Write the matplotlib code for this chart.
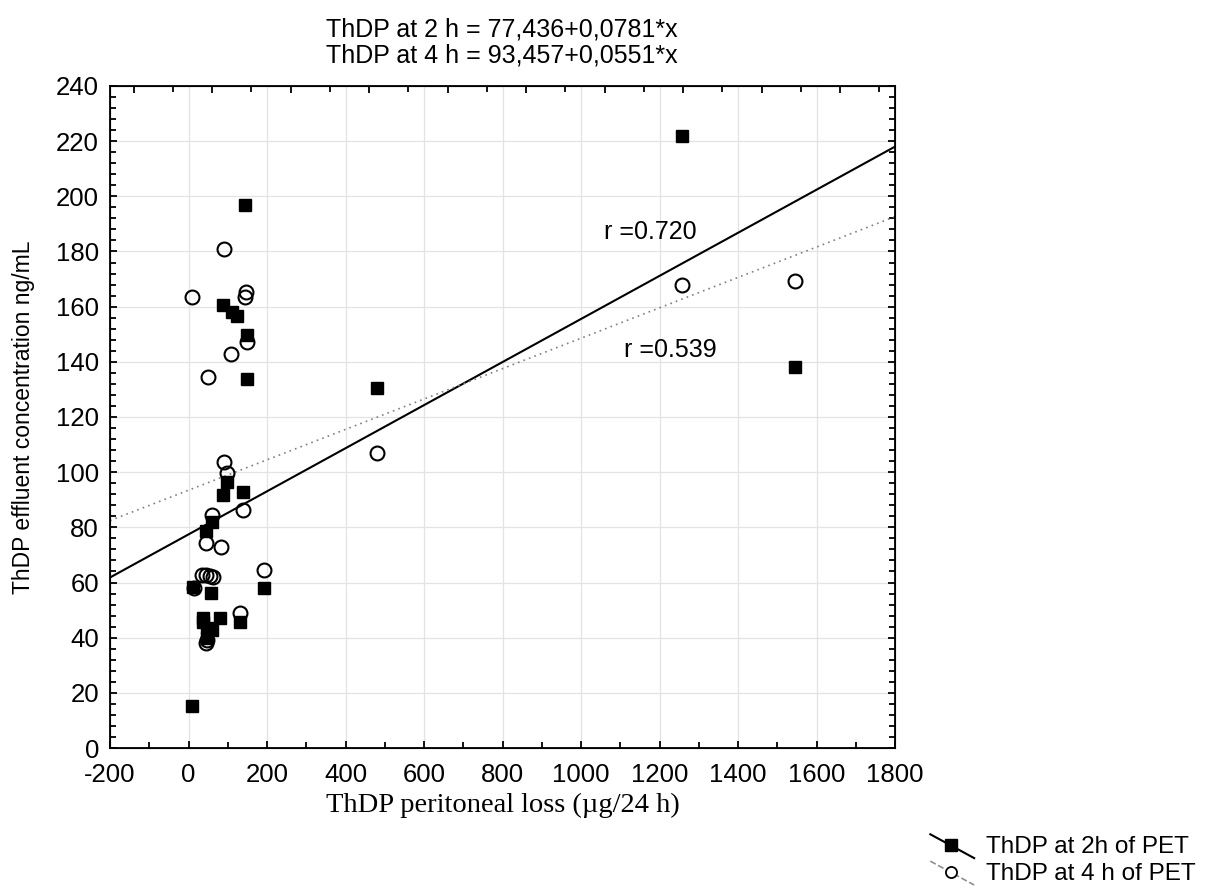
import numpy as np
import matplotlib
matplotlib.use("Agg")
import matplotlib.pyplot as plt
from matplotlib.legend_handler import HandlerBase
from matplotlib.lines import Line2D
from matplotlib.ticker import MultipleLocator

plt.rcParams['font.family'] = ['Liberation Sans', 'DejaVu Sans']
plt.rcParams['axes.unicode_minus'] = False

# ThDP at 2 h of PET (filled squares)
x_2h = [1257, 1545, 480, 144, 89, 110, 124, 148, 148, 97, 89, 138, 59, 45,
        193, 12, 57, 131, 80, 38, 36, 46, 59, 46, 10]
y_2h = [222, 138, 130.5, 197, 160.6, 158.2, 156.7, 149.7, 133.8, 96.6, 91.7, 92.9, 82, 78.7,
        57.9, 58.5, 56.3, 45.8, 47, 47, 45.5, 43.4, 42.8, 39.8, 15.3]

# ThDP at 4 h of PET (open circles)
x_4h = [1257, 1545, 480, 91, 10, 146, 144, 148, 108, 49, 90, 97, 138, 59,
        45, 82, 34, 45, 55, 62, 193, 14, 131, 45, 48]
y_4h = [168, 169.3, 107, 181, 163.4, 165.4, 163.6, 147.3, 142.7, 134.6, 103.8, 99.8, 86.3, 84.5,
        74.4, 72.8, 62.7, 62.7, 62.4, 62.1, 64.5, 58, 48.8, 38.2, 39]

# regression lines from the title
a_2h, b_2h = 77.436, 0.0781
a_4h, b_4h = 93.457, 0.0551
r_2h, r_4h = 0.720, 0.539


class DiagHandler(HandlerBase):
    # Statistica style legend key: slanted line through the marker
    def create_artists(self, legend, orig_handle, xdescent, ydescent,
                       width, height, fontsize, trans):
        x0 = -xdescent
        ln = Line2D([x0 + 0.05 * width, x0 + width], [height * 1.1, -height * 0.3],
                    color=orig_handle.get_color(), linestyle=orig_handle.get_linestyle(),
                    linewidth=orig_handle.get_linewidth(), transform=trans)
        mk = Line2D([x0 + 0.5 * width], [height * 0.45], marker=orig_handle.get_marker(),
                    markersize=orig_handle.get_markersize(),
                    markerfacecolor=orig_handle.get_markerfacecolor(),
                    markeredgecolor=orig_handle.get_markeredgecolor(),
                    markeredgewidth=orig_handle.get_markeredgewidth(),
                    linestyle='none', transform=trans)
        return [ln, mk]


fig = plt.figure(figsize=(12.05, 8.88), dpi=100)
ax = fig.add_axes([110 / 1205, 1 - 748 / 888, 785 / 1205, 662 / 888])

xl = np.array([-200, 1800])
ax.plot(xl, a_2h + b_2h * xl, color='black', lw=1.5, zorder=2)
ax.plot(xl, a_4h + b_4h * xl, color='#808080', lw=1.2, ls=(0, (1, 2.5)), zorder=2)
ax.plot(x_4h, y_4h, 'o', ms=10, mfc='none', mec='black', mew=1.5, zorder=3)
ax.plot(x_2h, y_2h, 's', ms=9, mfc='black', mec='black', zorder=4)

ax.text(1176, 187, 'r =%.3f' % r_2h, ha='center', va='center', fontsize=18)
ax.text(1227, 144.3, 'r =%.3f' % r_4h, ha='center', va='center', fontsize=18)

ax.set_xlim(-200, 1800)
ax.set_ylim(0, 240)
ax.xaxis.set_major_locator(MultipleLocator(200))
ax.xaxis.set_minor_locator(MultipleLocator(100))
ax.yaxis.set_major_locator(MultipleLocator(20))
ax.yaxis.set_minor_locator(MultipleLocator(4))
ax.tick_params(which='both', direction='in', labelsize=18.5, width=1.3, right=True)
ax.tick_params(which='major', length=5)
ax.tick_params(which='minor', length=4)
ax.tick_params(axis='x', which='major', pad=11)
ax.tick_params(axis='y', which='major', pad=8)
ax.grid(True, which='major', color='#e3e3e3', lw=0.9)
ax.set_axisbelow(True)
for s in ax.spines.values():
    s.set_linewidth(1.3)

# top axis has its own (offset) tick marks
top = ax.twiny()
top.set_xlim(-200, 1800)
top.set_xticks(np.arange(-140, 1800, 200))
top.set_xticks(np.arange(-40, 1800, 200), minor=True)
top.tick_params(which='both', direction='in', labeltop=False, width=1.3)
top.tick_params(which='major', length=5)
top.tick_params(which='minor', length=4)

ax.set_ylabel('ThDP effluent concentration ng/mL', fontsize=16.5, labelpad=15)
ax.set_xlabel('ThDP peritoneal loss (\u00b5g/24 h)', fontsize=20.5,
              family=['Liberation Serif', 'DejaVu Serif'], labelpad=4)
fig.text(502 / 1205, 1 - 30 / 888, 'ThDP at 2 h = 77,436+0,0781*x', ha='center', va='center', fontsize=18)
fig.text(502 / 1205, 1 - 56 / 888, 'ThDP at 4 h = 93,457+0,0551*x', ha='center', va='center', fontsize=18)

h2 = Line2D([], [], color='black', lw=1.5, marker='s', ms=8, mfc='black', mec='black')
h4 = Line2D([], [], color='#909090', lw=1.2, ls=(0, (1, 2.5)), marker='o', ms=8,
            mfc='white', mec='black', mew=1.3)
fig.legend([h2, h4], ['ThDP at 2h of PET', 'ThDP at 4 h of PET'],
           handler_map={h2: DiagHandler(), h4: DiagHandler()},
           loc='upper left', bbox_to_anchor=(928 / 1205, 1 - 836 / 888),
           frameon=False, fontsize=17.5, handlelength=1.9, handletextpad=0.5,
           borderpad=0, borderaxespad=0, labelspacing=0.2)

fig.savefig('out.png', dpi=100)
